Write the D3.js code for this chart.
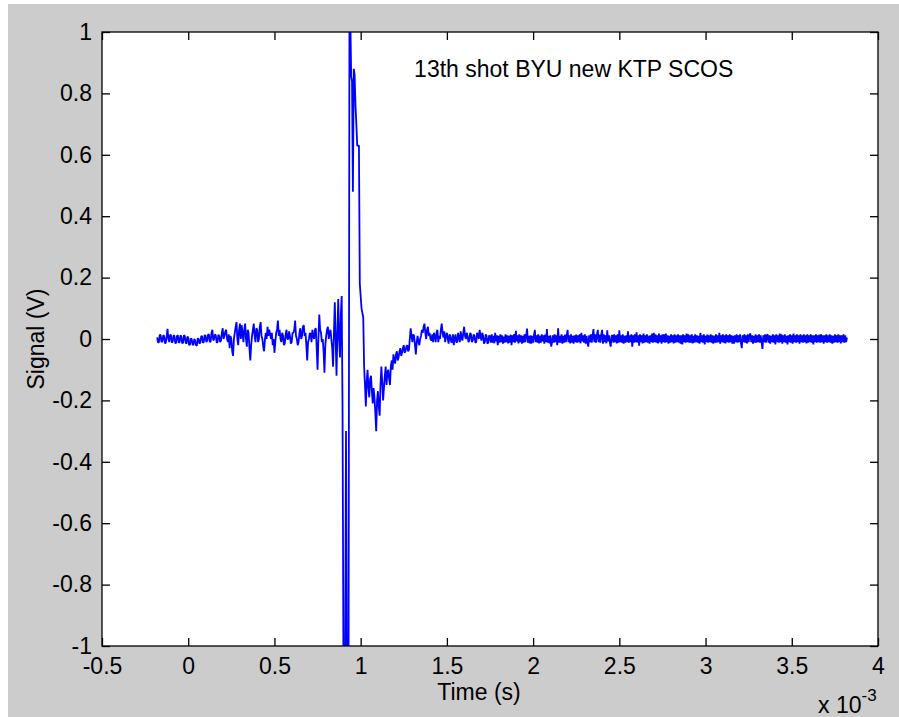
<!DOCTYPE html>
<html>
<head>
<meta charset="utf-8">
<script src="https://cdn.jsdelivr.net/npm/d3@7"></script>
<style>
  html, body { margin: 0; padding: 0; background: #ffffff; }
  svg { display: block; font-family: "Liberation Sans", Arial, sans-serif; }
</style>
</head>
<body>
<svg class="scope-svg"></svg>
<script>
// Axis ticks (time in units of 1e-3 s)
const xTicks = [-0.5, 0, 0.5, 1, 1.5, 2, 2.5, 3, 3.5, 4];
const yTicks = [-1, -0.8, -0.6, -0.4, -0.2, 0, 0.2, 0.4, 0.6, 0.8, 1];

// Baseline noise before the pulse, sampled every 0.005 (x1e-3 s) from -0.18
const preStart = -0.18;
const preStep = 0.005;
const preSignal = [
    0.005, -0.012, -0.01, 0.014, 0.012, -0.01, -0.008, 0.012, 0.01, -0.014,
    -0.012, 0.01, 0.033, 0.0, -0.01, 0.014, 0.012, -0.012, -0.008, 0.012,
    0.01, -0.014, -0.012, 0.01, 0.012, -0.012, -0.01, 0.012, 0.008, -0.014,
    -0.012, 0.012, 0.01, -0.012, -0.015, 0.008, 0.005, -0.02, -0.018, 0.002,
    0.0, -0.018, -0.02, 0.0, -0.005, -0.02, -0.022, 0.002, 0.0, -0.015,
    -0.012, 0.008, 0.01, -0.012, -0.01, 0.012, 0.012, -0.01, -0.005, 0.014,
    0.015, -0.01, -0.008, 0.02, 0.03, -0.005, 0.0, 0.015, 0.012, -0.012,
    -0.01, 0.014, 0.01, -0.01, -0.005, 0.02, 0.035, 0.0, 0.01, 0.025,
    0.03, 0.0, -0.01, 0.015, -0.03, 0.01, 0.0, -0.04, -0.055, 0.0,
    0.02, 0.04, 0.055, 0.0, -0.02, 0.03, 0.05, 0.0, 0.045, 0.02,
    -0.01, 0.03, 0.05, 0.0, -0.025, 0.03, 0.02, -0.03, -0.07, -0.02,
    0.01, 0.03, 0.05, 0.01, -0.01, 0.035, 0.03, -0.01, 0.0, 0.04,
    0.055, 0.01, 0.0, -0.025, -0.04, 0.0, 0.02, 0.0, 0.04, 0.01,
    0.03, 0.015, 0.0, 0.02, -0.02, 0.0, -0.045, -0.01, 0.02, 0.03,
    0.06, 0.01, 0.03, 0.0, -0.01, 0.02, 0.01, -0.02, -0.015, 0.015,
    0.03, 0.0, 0.0, 0.025, 0.01, -0.015, -0.01, 0.02, 0.02, 0.03,
    0.06, 0.01, 0.0, -0.02, -0.01, 0.02, 0.035, 0.0, 0.01, 0.04,
    0.045, 0.01, 0.02, -0.02, -0.07, -0.01, 0.0, 0.02, 0.015, -0.01,
    0.03, 0.01, 0.0, 0.03, 0.035, -0.03, -0.10, 0.0, 0.08, 0.03,
    0.02, -0.01, 0.0, -0.04, -0.11, -0.02, 0.01, 0.03, 0.04, 0.0,
    0.02, 0.03, 0.0, -0.03, -0.09, 0.02, 0.12, 0.0, -0.12, 0.02,
    0.13, 0.0, -0.06
];

// The pulse itself, sampled every 0.005 from 0.885
const pulseStart = 0.885;
const pulseStep = 0.005;
const pulseSignal = [
    0.08, 0.14, -0.24, -1.05, -1.05, -1.02, -0.30, -1.05, -1.03, -1.0,
    1.05, 1.05, 0.855, 0.84, 0.48, 0.88, 0.86, 0.76, 0.70, 0.63,
    0.63, 0.63, 0.18, 0.14, 0.10, 0.085, 0.07, -0.09
];

// Recovery and tail, sampled every 0.005 from 1.025 to 3.82
const postStart = 1.025;
const postStep = 0.005;
const postSignal = [
    -0.15, -0.22, -0.14, -0.10, -0.16, -0.19, -0.13, -0.12, -0.17, -0.21,
    -0.16, -0.19, -0.24, -0.30, -0.20, -0.17, -0.22, -0.25, -0.15, -0.09,
    -0.14, -0.20, -0.16, -0.12, -0.09, -0.15, -0.11, -0.10, -0.13, -0.15,
    -0.09, -0.07, -0.10, -0.05, -0.07, -0.08, -0.05, -0.04, -0.07, -0.06,
    -0.04, -0.03, -0.055, -0.045, -0.03, -0.02, -0.045, -0.04, -0.025, -0.02,
    -0.04, -0.035, 0.0, 0.035, 0.01, -0.01, 0.015, 0.01, -0.02, -0.05,
    -0.01, 0.01, -0.01, -0.02, 0.0, 0.01, 0.03, 0.02, 0.04, 0.05,
    0.02, 0.0, 0.03, 0.04, 0.01, 0.02, 0.0, -0.005, 0.015, -0.01,
    0.02, 0.01, -0.01, 0.02, 0.03, -0.01, 0.01, 0.0, 0.03, 0.05,
    0.02, 0.005, 0.025, -0.01, 0.01, 0.02, 0.0, -0.015, 0.015, 0.01,
    -0.01, -0.01, 0.015, -0.02, 0.0, 0.015, -0.01, -0.01, 0.02, 0.005,
    -0.01, 0.025, 0.005, -0.005, 0.02, 0.04, 0.01, 0.0, 0.02, 0.01,
    -0.01, -0.005, 0.02, 0.015, -0.01, -0.005, 0.015, 0.01, -0.012, -0.01,
    0.02, 0.015, 0.0, 0.03, 0.01, -0.005, 0.02, 0.01, -0.015, -0.01,
    0.015, 0.01, -0.015, -0.012, 0.012, 0.008, -0.012,
    0.015, -0.012, 0.01, -0.014, 0.02, -0.008, 0.012, -0.02, 0.01, -0.012,
    0.015, -0.01, 0.012, -0.015, 0.008, -0.012, 0.015, -0.01, 0.012, -0.014,
    0.01, -0.012, 0.014, -0.02, 0.012, -0.01, 0.016, -0.012, 0.027, -0.008,
    0.012, -0.014, 0.015, -0.01, 0.012, -0.015, 0.01, -0.012, 0.015, -0.01,
    0.012, 0.034, -0.012, 0.01, -0.014, 0.012, -0.015, 0.01, -0.012, 0.012,
    0.03, -0.01, 0.012, -0.012, 0.015, -0.014, 0.01, -0.012, 0.015, -0.008,
    0.012, -0.015, 0.014, -0.01, 0.032, -0.012, 0.01, -0.014, 0.012, -0.025,
    -0.01, 0.012, -0.012, 0.015, -0.01, 0.012, -0.02, 0.035, -0.012, 0.01,
    -0.012, 0.015, -0.015, 0.01, -0.012, 0.014, -0.01, 0.012, 0.03, -0.01,
    0.012, -0.014, 0.015, -0.012, 0.01, -0.015, 0.012, -0.01, 0.014, -0.012,
    0.012, -0.01, 0.015, -0.014, 0.02, -0.008, 0.012, -0.012, 0.015, -0.015,
    0.01, -0.012, -0.025, 0.012, -0.01, 0.015, -0.012, 0.012, 0.032, -0.01,
    0.015, -0.012, 0.012, 0.03, -0.01, 0.014, -0.012, 0.012, 0.03, -0.015,
    0.015, -0.01, 0.012, -0.014, 0.028, -0.008, 0.012, -0.012, -0.025, 0.01,
    0.012, -0.012, 0.015, -0.01, 0.012, -0.014, 0.015, -0.012, 0.028, -0.01,
    0.012, -0.012, 0.015, -0.015, 0.01, -0.012, 0.012, -0.01, 0.025, -0.012,
    0.012, -0.01, 0.015, -0.025, 0.012, -0.012, 0.015, -0.01, 0.022, -0.012,
    0.012, -0.022, 0.015, -0.01, 0.012, -0.014, 0.018, -0.012, 0.012, -0.01,
    0.015, -0.012, 0.01, -0.015, 0.012, -0.01, 0.018, -0.012, 0.02, -0.01,
    0.015, -0.012, 0.012, -0.014, 0.018, -0.01, 0.012, -0.015, 0.015, -0.01,
    0.015, -0.012, 0.018, -0.01, 0.012, -0.015, 0.01, -0.012, 0.015, -0.01,
    0.012, -0.014, 0.015, -0.012, 0.012, -0.01, 0.015, -0.012, 0.012, -0.015,
    0.012, -0.018, 0.015, -0.01, 0.012, -0.012, 0.018, -0.01, 0.015, -0.012,
    0.012, -0.012, 0.015, -0.014, 0.01, -0.012, 0.015, -0.01, 0.012, -0.012,
    0.01, -0.015, 0.02, -0.01, 0.012, -0.012, 0.015, -0.018, 0.01, -0.01,
    0.014, -0.012, 0.012, -0.01, 0.015, -0.012, 0.012, -0.015, 0.01, -0.012,
    0.015, -0.012, 0.012, -0.01, 0.02, -0.015, 0.012, -0.01, 0.015, -0.012,
    0.012, -0.014, 0.015, -0.01, 0.012, -0.012, 0.015, -0.01, 0.012, -0.015,
    0.01, -0.015, 0.012, -0.01, 0.015, -0.012, 0.012, -0.01, 0.015, -0.012,
    -0.03, 0.012, -0.01, 0.015, -0.012, 0.012, -0.014, 0.015, -0.01, 0.012,
    0.018, -0.01, 0.012, -0.015, 0.01, -0.012, 0.015, -0.012, 0.012, -0.01,
    0.015, -0.012, 0.012, -0.01, -0.032, 0.012, -0.01, 0.015, -0.012, 0.012,
    0.015, -0.012, 0.012, -0.015, 0.01, -0.01, 0.015, -0.012, 0.012, -0.018,
    0.015, -0.01, 0.012, -0.012, 0.018, -0.01, 0.015, -0.015, 0.012, -0.01,
    0.015, -0.012, 0.01, -0.018, 0.012, -0.01, 0.015, -0.012, 0.012, -0.015,
    0.018, -0.01, 0.012, -0.012, 0.015, -0.01, 0.012, -0.015, 0.015, -0.01,
    0.012, -0.012, 0.015, -0.01, 0.012, -0.014, 0.015, -0.012, 0.012, -0.01,
    0.015, -0.012, 0.012, -0.018, 0.012, -0.01, 0.015, -0.012, 0.012, -0.01,
    0.014, -0.012, 0.015, -0.01, 0.012, -0.015, 0.012, -0.01, 0.015, -0.012,
    0.012, -0.01, 0.015, -0.012, 0.012, -0.015, 0.01, -0.012, 0.015, -0.01,
    0.012, -0.012, 0.015, -0.01, 0.012, -0.014, 0.012, -0.01, 0.015, -0.012,
    0.012, -0.01, 0.005
];

const annotation = "13th shot BYU new KTP SCOS";

document.addEventListener('DOMContentLoaded', () => {
    const width = 899;
    const height = 717;
    const margin = { top: 32, right: 21, bottom: 71, left: 102 };
    const plotW = width - margin.left - margin.right;
    const plotH = height - margin.top - margin.bottom;
    const fontSize = '23px';

    const svg = d3.select('.scope-svg')
        .attr('width', width)
        .attr('height', height);

    // figure background (grey, with thin white strip top/left like the screenshot)
    svg.append('rect')
        .attr('x', 8).attr('y', 4)
        .attr('width', width - 8).attr('height', height - 4)
        .attr('fill', '#cccccc');

    const x = d3.scaleLinear().domain([-0.5, 4]).range([0, plotW]);
    const y = d3.scaleLinear().domain([-1, 1]).range([plotH, 0]);

    const g = svg.append('g')
        .attr('transform', `translate(${margin.left},${margin.top})`);

    g.append('rect')
        .attr('width', plotW)
        .attr('height', plotH)
        .attr('fill', '#ffffff');

    g.append('clipPath').attr('id', 'plot-clip')
        .append('rect')
        .attr('width', plotW)
        .attr('height', plotH);

    // assemble the samples
    const points = [];
    preSignal.forEach((v, i) => points.push([preStart + i * preStep, v]));
    pulseSignal.forEach((v, i) => points.push([pulseStart + i * pulseStep, v]));
    postSignal.forEach((v, i) => points.push([postStart + i * postStep, v]));

    const line = d3.line()
        .x(d => x(d[0]))
        .y(d => y(d[1]));

    g.append('path')
        .datum(points)
        .attr('clip-path', 'url(#plot-clip)')
        .attr('fill', 'none')
        .attr('stroke', '#0000ff')
        .attr('stroke-width', 1.8)
        .attr('stroke-linejoin', 'bevel')
        .attr('d', line);

    const fmt = d => String(d);

    // axes with inward ticks on all four sides
    const axisStyle = sel => {
        sel.select('.domain').remove();
        sel.selectAll('.tick line').attr('stroke', '#000').attr('stroke-width', 1.3);
        sel.selectAll('.tick text')
            .attr('fill', '#000')
            .style('font-size', fontSize)
            .style('font-family', '"Liberation Sans", Arial, sans-serif');
    };

    g.append('g')
        .attr('transform', `translate(0,${plotH})`)
        .call(d3.axisBottom(x).tickValues(xTicks).tickFormat(fmt)
            .tickSizeInner(-8).tickSizeOuter(0).tickPadding(12))
        .call(axisStyle);

    g.append('g')
        .call(d3.axisTop(x).tickValues(xTicks).tickFormat('')
            .tickSizeInner(-8).tickSizeOuter(0))
        .call(axisStyle);

    g.append('g')
        .call(d3.axisLeft(y).tickValues(yTicks).tickFormat(fmt)
            .tickSizeInner(-8).tickSizeOuter(0).tickPadding(10))
        .call(axisStyle);

    g.append('g')
        .attr('transform', `translate(${plotW},0)`)
        .call(d3.axisRight(y).tickValues(yTicks).tickFormat('')
            .tickSizeInner(-8).tickSizeOuter(0))
        .call(axisStyle);

    // axes box
    g.append('rect')
        .attr('width', plotW)
        .attr('height', plotH)
        .attr('fill', 'none')
        .attr('stroke', '#000')
        .attr('stroke-width', 1.3);

    // text annotation inside the axes
    g.append('text')
        .attr('x', x(1.31))
        .attr('y', y(0.88))
        .attr('dy', '0.35em')
        .style('font-size', fontSize)
        .attr('fill', '#000')
        .text(annotation);

    // axis labels
    svg.append('text')
        .attr('x', 479)
        .attr('y', 700)
        .attr('text-anchor', 'middle')
        .style('font-size', fontSize)
        .text('Time (s)');

    svg.append('text')
        .attr('transform', `translate(44,${margin.top + plotH / 2}) rotate(-90)`)
        .attr('text-anchor', 'middle')
        .style('font-size', fontSize)
        .text('Signal (V)');

    // exponent marker for the time axis
    const expo = svg.append('text')
        .attr('x', 818)
        .attr('y', 713)
        .style('font-size', fontSize);
    expo.append('tspan').text('x 10');
    expo.append('tspan')
        .attr('dy', -12)
        .style('font-size', '17px')
        .text('-3');
});
</script>
</body>
</html>
